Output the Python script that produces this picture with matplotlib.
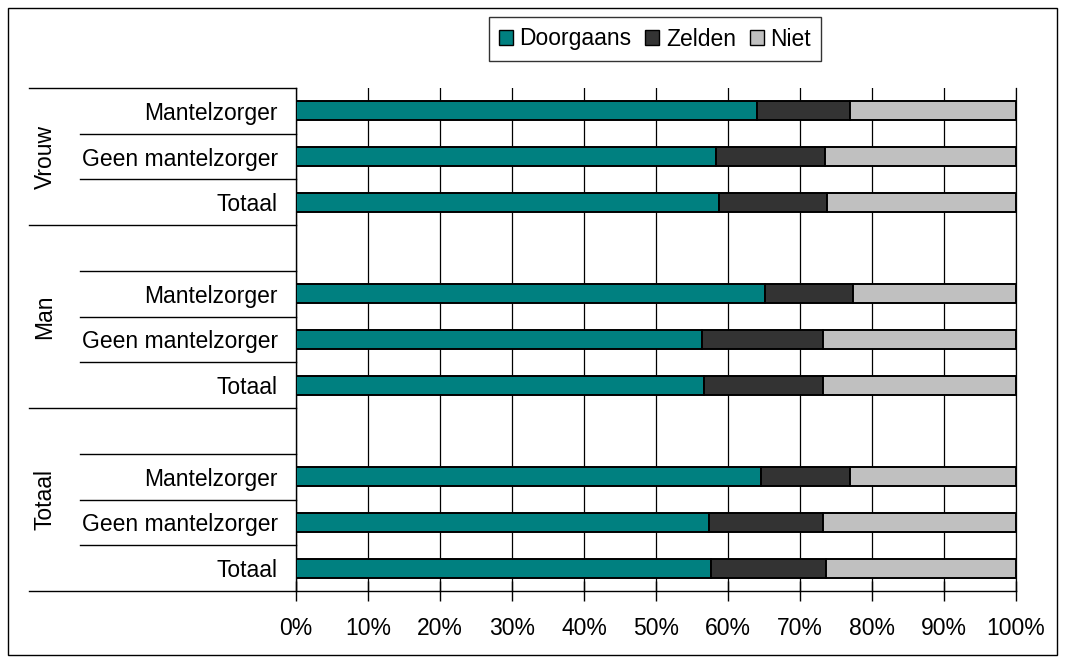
import matplotlib.pyplot as plt
import matplotlib.transforms as mtransforms
from matplotlib.patches import Rectangle, Patch

plt.rcParams['font.family'] = ['Liberation Sans', 'DejaVu Sans']

# rows top to bottom; None = empty spacer row
groups = ['Vrouw', 'Man', 'Totaal']
row_labels = ['Mantelzorger', 'Geen mantelzorger', 'Totaal', None,
              'Mantelzorger', 'Geen mantelzorger', 'Totaal', None,
              'Mantelzorger', 'Geen mantelzorger', 'Totaal']
doorgaans = [64.0, 58.4, 58.7, None, 65.2, 56.4, 56.7, None, 64.6, 57.3, 57.6]
zelden = [13.0, 15.1, 15.05, None, 12.1, 16.8, 16.5, None, 12.4, 15.9, 16.0]
niet = [23.0, 26.5, 26.25, None, 22.7, 26.8, 26.8, None, 23.0, 26.8, 26.4]
series_names = ['Doorgaans', 'Zelden', 'Niet']
colors = ['#008080', '#333333', '#C0C0C0']

W, H = 1065, 664
FS = 16.5
fig = plt.figure(figsize=(W / 100, H / 100), dpi=100)
ax = fig.add_axes([296 / W, 1 - 591 / H, 720 / W, 503 / H])

rows = [i for i, lab in enumerate(row_labels) if lab is not None]
left = [0] * len(rows)
for name, vals, col in zip(series_names, [doorgaans, zelden, niet], colors):
    v = [vals[i] for i in rows]
    ax.barh(rows, v, left=left, height=0.42, color=col, edgecolor='black',
            linewidth=1.4, label=name, zorder=3)
    left = [a + b for a, b in zip(left, v)]

ax.set_xlim(0, 100)
ax.set_ylim(10.5, -0.5)
ax.set_xticks(range(0, 101, 10))
ax.set_xticklabels([f'{t}%' for t in range(0, 101, 10)], fontsize=FS)
ax.tick_params(axis='x', direction='inout', length=14, width=1, pad=12)
ax.set_yticks(rows)
ax.set_yticklabels([row_labels[i] for i in rows], fontsize=FS)
ax.tick_params(axis='y', length=0, pad=13)
ax.grid(axis='x', color='black', linewidth=0.9, zorder=0)
ax.axvline(100, color='black', linewidth=0.9, zorder=0, clip_on=False)
for s in ['top', 'right', 'bottom']:
    ax.spines[s].set_visible(False)
ax.spines['left'].set_linewidth(1)

# category separator lines
tr = mtransforms.blended_transform_factory(fig.transFigure, ax.transData)
for y in [0.5, 1.5, 3.5, 4.5, 5.5, 7.5, 8.5, 9.5]:
    ax.plot([80 / W, 296 / W], [y, y], color='black',
            linewidth=1, transform=tr, clip_on=False)
for y in [-0.5, 2.5, 6.5, 10.5]:
    end = 1016 / W if y == 10.5 else 296 / W
    ax.plot([29 / W, end], [y, y], color='black', linewidth=1,
            transform=tr, clip_on=False)

# group labels
for g, y in zip(groups, [1.0, 4.5, 8.5]):
    ax.text(45 / W, y, g, rotation=90, ha='center', va='center',
            fontsize=FS, transform=tr)

handles = [Patch(facecolor=c, edgecolor='black', label=n)
           for n, c in zip(series_names, colors)]
leg = fig.legend(handles=handles, loc='center', bbox_to_anchor=(655 / W, 1 - 39 / H),
                 ncol=3, fontsize=FS, frameon=True, fancybox=False,
                 handlelength=0.6, handleheight=0.6, handletextpad=0.3,
                 columnspacing=0.6, borderpad=0.45)
leg.get_frame().set_edgecolor('black')
leg.get_frame().set_linewidth(1)

fig.patches.append(Rectangle((8 / W, 1 - 655 / H), 1049 / W, 647 / H,
                             transform=fig.transFigure, fill=False,
                             edgecolor='black', linewidth=1))

fig.savefig('out.png', dpi=100)
